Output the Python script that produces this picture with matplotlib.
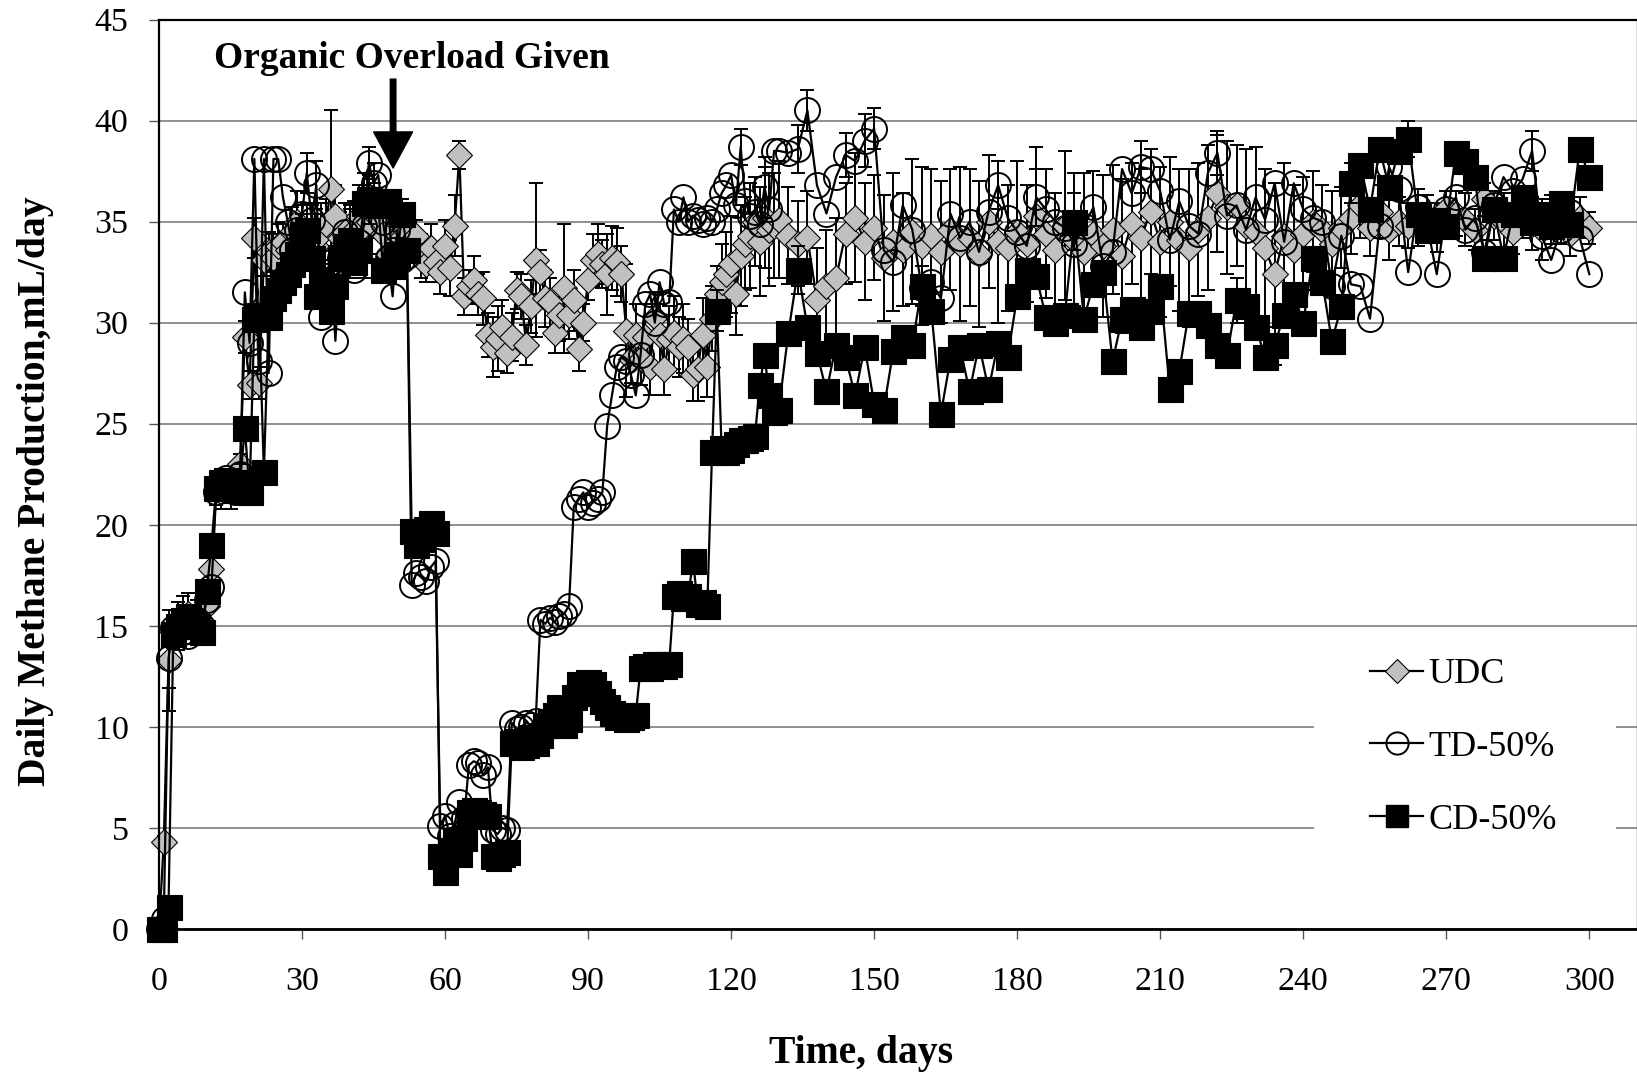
import matplotlib
matplotlib.use("Agg")
import matplotlib.pyplot as plt
from matplotlib.lines import Line2D
from matplotlib.patches import Rectangle

plt.rcParams['font.family'] = ['Liberation Serif', 'DejaVu Serif']

# ---------------- data ----------------
days_a = list(range(0, 131))          # daily readings, day 0-130
days_b = list(range(132, 301, 2))     # readings every 2 days, day 132-300
days = days_a + days_b

udc_a = [0.0, 4.3, 13.3, 14.7, 15.0, 15.2, 15.6, 15.0, 15.4, 15.1,
         16.0, 17.8, 21.7, 21.6, 22.0, 21.7, 22.3, 23.0, 29.3, 26.9,
         34.2, 27.0, 33.1, 33.5, 33.2, 33.8, 34.0, 33.6, 34.5, 35.0,
         34.2, 34.5, 34.3, 33.8, 34.4, 34.9, 36.6, 35.3, 34.2, 34.5,
         34.0, 34.6, 35.3, 34.8, 35.0, 35.6, 35.2, 34.4, 33.4, 33.6,
         34.0, 34.9, 34.5, 34.1, 34.3, 33.3, 32.9, 33.7, 33.0, 32.5,
         33.8, 32.7, 34.8, 38.3, 31.3, 31.8, 32.1, 31.4, 31.2, 29.4,
         28.8, 29.2, 29.8, 28.5, 29.3, 31.6, 31.3, 28.9, 30.8, 33.1,
         32.5, 31.2, 31.0, 29.5, 30.4, 31.7, 30.4, 31.1, 28.7, 30.0,
         32.1, 33.1, 33.4, 32.9, 32.4, 33.2, 33.0, 32.4, 29.6, 28.2,
         29.4, 28.2, 29.3, 27.8, 30.3, 29.4, 27.7, 29.2, 29.5, 28.8,
         29.2, 28.8, 27.4, 27.7, 29.4, 27.8, 30.2, 31.4, 32.0, 32.4,
         32.9, 31.4, 33.3, 33.9, 34.3, 35.0, 34.0, 35.2, 34.6, 34.8,
         35.1]
udc_b = [34.3, 33.9, 34.2, 31.1, 31.8, 32.2, 34.4, 35.2, 34.0, 34.7,
         33.2, 34.0, 33.6, 34.5, 33.8, 34.3, 33.5, 34.6, 33.9, 34.2,
         33.4, 35.0, 34.0, 33.7, 34.5, 33.9, 35.3, 34.4, 33.6, 34.8,
         34.1, 33.5, 34.4, 33.8, 34.6, 33.3, 34.9, 34.2, 35.5, 34.0,
         35.0, 34.1, 33.7, 34.6, 35.2, 36.4, 35.7, 35.8, 34.8, 34.5,
         33.7, 32.4, 34.3, 33.6, 34.4, 35.0, 34.6, 33.9, 34.7, 35.2,
         35.8, 34.7, 35.5, 34.6, 35.0, 34.8, 35.2, 35.3, 34.7, 35.6,
         35.4, 35.1, 34.6, 36.1, 35.3, 35.0, 34.5, 35.2, 34.9, 34.6,
         35.1, 34.8, 34.4, 35.2, 34.7]
udc_err_a = [0.0, 0.3, 2.5, 0.8, 1.2, 0.8, 1.0, 0.6, 0.9, 0.7,
             0.8, 0.6, 0.7, 0.8, 0.6, 0.9, 0.7, 0.5, 0.8, 0.7,
             1.0, 0.8, 0.8, 1.0, 1.2, 1.1, 1.0, 1.3, 1.2, 1.5,
             1.6, 1.4, 1.5, 1.6, 1.5, 1.2, 3.9, 1.5, 1.3, 1.4,
             1.8, 1.4, 1.5, 2.6, 1.6, 1.3, 1.0, 1.2, 1.1, 1.3,
             1.5, 1.2, 0.9, 1.0, 0.8, 1.1, 0.9, 1.2, 1.0, 1.1,
             1.3, 1.4, 1.5, 0.7, 0.9, 0.8, 1.2, 1.0, 1.3, 1.1,
             1.5, 1.6, 1.3, 1.0, 1.2, 0.9, 1.1, 1.0, 1.3, 3.8,
             1.1, 1.4, 1.2, 1.0, 1.3, 3.2, 1.2, 1.5, 1.1, 0.9,
             1.0, 1.3, 1.5, 1.2, 2.0, 1.6, 1.7, 1.4, 3.3, 1.2,
             1.5, 1.3, 1.6, 1.4, 1.2, 1.5, 1.3, 1.6, 1.8, 1.5,
             1.7, 1.4, 1.3, 1.6, 1.8, 1.5, 1.6, 1.4, 1.9, 2.1,
             2.4, 2.0, 2.5, 2.3, 2.6, 2.2, 2.7, 2.5, 2.8, 2.6,
             2.9]
udc_err_b = [2.4, 2.1, 2.3, 2.6, 2.8, 3.0, 2.5, 3.2, 2.9, 2.6,
             3.1, 3.4, 2.8, 3.6, 3.9, 3.3, 3.5, 3.0, 3.8, 3.4,
             3.6, 3.3, 4.0, 3.1, 3.5, 2.9, 3.4, 3.2, 2.8, 3.7,
             3.3, 3.9, 3.1, 3.5, 3.2, 3.8, 3.0, 3.4, 3.1, 3.7,
             3.2, 3.5, 3.9, 3.3, 3.6, 2.9, 3.3, 3.0, 3.8, 4.2,
             3.9, 4.5, 3.6, 3.2, 2.8, 2.5, 2.2, 2.6, 2.0, 1.8,
             1.6, 1.4, 1.3, 1.5, 1.2, 1.1, 1.4, 1.0, 1.2, 0.9,
             1.1, 1.3, 1.0, 0.8, 1.2, 1.4, 1.1, 1.0, 1.3, 1.5,
             1.2, 0.9, 1.1, 1.0, 0.8]

td_a = [0.0, 0.5, 13.4, 14.9, 15.0, 14.7, 14.5, 15.1, 15.3, 15.0,
        16.3, 16.9, 21.6, 22.0, 22.3, 21.9, 21.6, 22.5, 31.5, 29.0,
        38.1, 28.1, 38.1, 27.5, 38.1, 38.1, 36.2, 35.0, 33.6, 34.6,
        35.4, 37.4, 35.1, 36.8, 30.3, 32.5, 33.0, 29.1, 33.2, 34.5,
        33.6, 32.6, 34.0, 34.8, 37.9, 36.9, 37.3, 35.0, 33.2, 31.3,
        34.6, 33.1, 33.3, 17.0, 17.6, 17.4, 17.2, 17.9, 18.2, 5.1,
        5.6, 4.6, 5.2, 6.3, 5.5, 8.1, 8.3, 8.2, 7.6, 8.0,
        4.9, 4.7, 5.0, 4.9, 10.2, 9.9, 10.0, 10.2, 10.1, 10.3,
        15.3, 15.1, 15.4, 15.2, 15.5, 15.6, 16.0, 20.9, 21.3, 21.6,
        20.9, 21.1, 21.3, 21.6, 24.9, 26.4, 27.8, 28.3, 28.1, 27.4,
        26.4, 28.4, 30.9, 31.4, 30.0, 32.0, 30.9, 31.0, 35.6, 35.0,
        36.2, 35.0, 35.3, 35.1, 34.9, 35.2, 35.0, 35.6, 36.4, 36.8,
        37.3, 35.8, 38.7, 36.0, 35.3, 35.5, 34.9, 36.7, 35.6, 38.5,
        38.5]
td_b = [38.4, 38.6, 40.5, 36.8, 35.4, 37.2, 38.3, 38.0, 39.0, 39.6,
        33.6, 33.0, 35.8, 34.6, 31.7, 32.0, 31.2, 35.4, 34.2, 35.0,
        33.5, 35.5, 36.8, 35.2, 34.5, 33.8, 36.2, 35.6, 35.0, 34.7,
        33.9, 34.8, 35.7, 32.8, 33.5, 37.6, 36.4, 37.7, 37.6, 36.5,
        34.1, 36.0, 34.8, 34.4, 37.4, 38.4, 35.3, 35.8, 34.6, 36.2,
        35.1, 36.9, 34.0, 36.9, 35.6, 35.2, 35.0, 31.8, 34.3, 31.9,
        31.8, 30.2, 34.8, 37.7, 36.6, 32.5, 35.7, 34.8, 32.4, 35.6,
        36.2, 34.6, 35.2, 33.5, 35.8, 37.2, 36.5, 37.1, 38.5, 34.3,
        33.1, 34.6, 35.5, 34.2, 32.4]
td_err_days = [2, 31, 33, 44, 45, 122, 127, 134, 136, 144, 148, 150, 176, 184, 206, 222, 258, 288]
td_err = [1.5, 1.0, 1.2, 0.8, 1.0, 0.9, 1.5, 1.2, 1.0, 1.1, 1.3, 1.0, 1.2, 1.4, 1.3, 1.1, 1.2, 1.0]

cd_a = [0.0, 0.0, 1.1, 14.6, 15.0, 15.3, 15.5, 15.2, 15.0, 14.7,
        16.7, 19.0, 21.8, 22.1, 22.2, 21.9, 21.7, 22.1, 24.8, 21.6,
        30.2, 30.4, 22.6, 30.3, 31.2, 31.6, 32.0, 32.4, 32.9, 33.4,
        34.4, 34.6, 33.2, 31.3, 32.0, 31.6, 30.6, 31.8, 33.2, 33.8,
        34.1, 33.0, 33.6, 35.9, 36.1, 36.0, 35.8, 32.6, 36.0, 32.8,
        33.4, 35.4, 33.6, 19.7, 19.0, 19.3, 19.8, 20.1, 19.6, 3.6,
        2.8, 3.9, 4.4, 3.7, 4.5, 5.8, 5.9, 5.8, 5.7, 5.6,
        3.6, 3.5, 3.7, 3.8, 9.2, 9.3, 9.0, 9.1, 9.5, 9.2,
        9.6, 10.1, 10.3, 10.6, 11.0, 10.1, 10.4, 11.5, 12.1, 11.9,
        12.2, 12.1, 11.7, 11.3, 11.0, 10.7, 10.5, 10.6, 10.4, 10.5,
        10.6, 12.9, 13.0, 12.9, 13.1, 13.1, 13.0, 13.1, 16.5, 16.6,
        16.4, 16.5, 18.2, 16.1, 16.2, 16.0, 23.6, 30.6, 23.8, 23.6,
        23.7, 24.0, 24.2, 24.2, 24.3, 24.4, 26.9, 28.4, 26.4, 25.6,
        25.7]
cd_b = [29.5, 32.6, 29.8, 28.5, 26.6, 28.9, 28.3, 26.4, 28.8, 26.0,
        25.7, 28.6, 29.3, 28.9, 31.8, 30.6, 25.5, 28.2, 28.8, 26.6,
        28.9, 26.7, 29.0, 28.3, 31.3, 32.6, 32.3, 30.3, 30.0, 30.4,
        35.0, 30.2, 31.9, 32.5, 28.1, 30.2, 30.7, 29.8, 30.6, 31.8,
        26.7, 27.6, 30.5, 30.5, 29.9, 28.9, 28.4, 31.1, 30.8, 29.8,
        28.3, 28.9, 30.4, 31.4, 30.0, 33.2, 32.0, 29.1, 30.8, 36.9,
        37.8, 35.6, 38.6, 36.7, 38.5, 39.1, 35.4, 34.6, 35.1, 34.8,
        38.4, 38.0, 37.2, 33.2, 35.6, 33.2, 35.4, 36.2, 35.0, 35.4,
        34.8, 35.9, 34.9, 38.6, 37.2]
cd_err_days = [5, 17, 30, 40, 44, 50, 117, 134, 160, 192, 226, 250, 262]
cd_err = [1.2, 0.9, 1.0, 1.5, 1.2, 0.8, 1.0, 1.2, 1.0, 1.4, 1.1, 1.0, 0.9]

series_names = ['UDC', 'TD-50%', 'CD-50%']
xticks = [0, 30, 60, 90, 120, 150, 180, 210, 240, 270, 300]
yticks = [0, 5, 10, 15, 20, 25, 30, 35, 40, 45]

udc = udc_a + udc_b
udc_err = udc_err_a + udc_err_b
td = td_a + td_b
cd = cd_a + cd_b

# ---------------- figure ----------------
W, H = 1637, 1073
fig = plt.figure(figsize=(W / 100, H / 100), dpi=100)
ax = fig.add_axes([159 / W, 1 - 929 / H, (1637 - 159) / W, (929 - 19.5) / H])
ax.set_xlim(0, 310)
ax.set_ylim(0, 45)
ax.set_axisbelow(True)
ax.yaxis.grid(True, color='#8f8f8f', linewidth=1.4)
ax.xaxis.grid(False)

lw = 1.6
ekw = dict(fmt='none', ecolor='black', elinewidth=1.4, capsize=4.8, capthick=1.4, clip_on=False)

# UDC
ax.errorbar(days, udc, yerr=udc_err, zorder=2, **ekw)
ax.plot(days, udc, color='black', lw=lw, marker='D', markersize=13,
        markerfacecolor='#c0c0c0', markeredgecolor='black', markeredgewidth=0.8,
        zorder=2.1, clip_on=False)
# TD-50%
td_idx = [days.index(d) for d in td_err_days]
ax.errorbar(td_err_days, [td[i] for i in td_idx], yerr=td_err, zorder=3, **ekw)
ax.plot(days, td, color='black', lw=lw, marker='o', markersize=18,
        markerfacecolor='none', markeredgecolor='black', markeredgewidth=1.4,
        zorder=3.1, clip_on=False)
# CD-50%
cd_idx = [days.index(d) for d in cd_err_days]
ax.errorbar(cd_err_days, [cd[i] for i in cd_idx], yerr=cd_err, zorder=4, **ekw)
ax.plot(days, cd, color='black', lw=lw, marker='s', markersize=18,
        markerfacecolor='black', markeredgecolor='black', markeredgewidth=0.8,
        zorder=4.1, clip_on=False)

# axes styling
ax.set_xticks(xticks)
ax.set_xticklabels([str(v) for v in xticks])
ax.set_yticks(yticks)
ax.set_yticklabels([str(v) for v in yticks])
ax.tick_params(axis='both', direction='out', length=7, width=1.0, color='#555555', labelsize=24.5)
ax.tick_params(axis='y', pad=15)
ax.tick_params(axis='x', pad=20)
for s in ['left', 'top']:
    ax.spines[s].set_color('black')
    ax.spines[s].set_linewidth(1.6)
ax.spines['bottom'].set_color('black')
ax.spines['bottom'].set_linewidth(2.0)
ax.spines['right'].set_color('#555555')
ax.spines['right'].set_linewidth(1.0)

# axis labels
fig.text(36 / W, 1 - 491 / H, 'Daily Methane Production,mL/day', rotation=90,
         ha='center', va='center', fontsize=28.5, fontweight='bold')
fig.text(861 / W, 1 - 1063 / H, 'Time, days', ha='center', va='baseline',
         fontsize=28.5, fontweight='bold')

# annotation
ax.text(53.1, 42.6, 'Organic Overload Given', ha='center', va='baseline',
        fontsize=27, fontweight='bold', zorder=6)
ax.annotate('', xy=(49.1, 37.65), xytext=(49.1, 42.05),
            arrowprops=dict(facecolor='black', edgecolor='black', width=4.0,
                            headwidth=28, headlength=26, shrink=0.0), zorder=6)

# legend background (white box hiding gridlines)
ax.add_patch(Rectangle((1314 / W, 1 - 870 / H), (1616 - 1314) / W, (870 - 638) / H,
                       transform=fig.transFigure, facecolor='white', edgecolor='none',
                       zorder=1))
handles = [
    Line2D([], [], color='black', lw=lw, marker='D', markersize=12,
           markerfacecolor='#c0c0c0', markeredgecolor='black', markeredgewidth=0.8),
    Line2D([], [], color='black', lw=lw, marker='o', markersize=16,
           markerfacecolor='none', markeredgecolor='black', markeredgewidth=1.4),
    Line2D([], [], color='black', lw=lw, marker='s', markersize=16,
           markerfacecolor='black', markeredgecolor='black'),
]
leg = ax.legend(handles, series_names, loc='upper left',
                bbox_to_anchor=(1370 / W, 1 - 658 / H), bbox_transform=fig.transFigure,
                frameon=False, fontsize=26, handlelength=1.47, handletextpad=0.15,
                labelspacing=1.09, borderpad=0, borderaxespad=0)
leg.set_zorder(7)

fig.savefig('out.png', dpi=100)
